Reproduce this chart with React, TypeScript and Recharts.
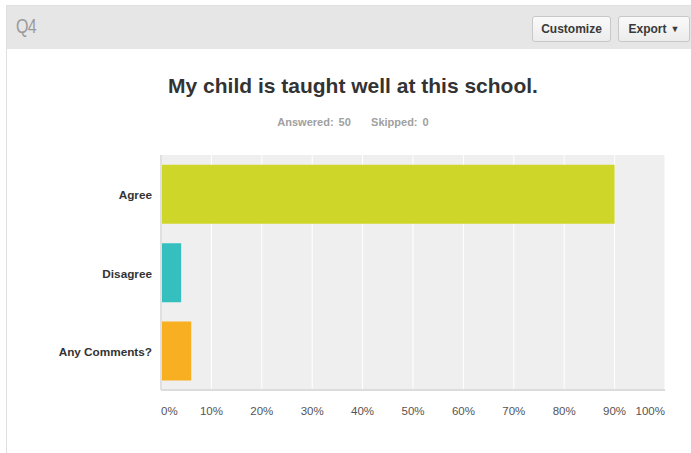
import React from "react";
import { BarChart, Bar, XAxis, YAxis, CartesianGrid, Cell } from "recharts";

const categories = ["Agree", "Disagree", "Any Comments?"];
const percents = [90, 4, 6];
const colors = ["#cfd62a", "#35bfbf", "#f8b022"];
const xTicks = [0, 10, 20, 30, 40, 50, 60, 70, 80, 90, 100];

const data = categories.map((name, i) => ({ name, value: percents[i] }));

const XTick = (props: any) => {
  const { x, y, payload, index } = props;
  const last = xTicks.length - 1;
  const anchor = index === 0 ? "start" : index === last ? "end" : "middle";
  return (
    <text
      x={x}
      y={y + 17}
      textAnchor={anchor}
      fontSize={11.5}
      fill="#555"
      fontFamily="Arial, 'Liberation Sans', sans-serif"
    >
      {`${payload.value}%`}
    </text>
  );
};

const YTick = (props: any) => {
  const { x, y, payload } = props;
  return (
    <text
      x={x - 1}
      y={y + 5}
      textAnchor="end"
      fontSize={11.75}
      fontWeight="bold"
      fill="#333"
      fontFamily="Arial, 'Liberation Sans', sans-serif"
    >
      {payload.value}
    </text>
  );
};

const btn: React.CSSProperties = {
  position: "absolute",
  top: 16,
  height: 26,
  border: "1px solid #c8c8c8",
  borderRadius: 3,
  background: "linear-gradient(#fafafa, #ececec)",
  fontFamily: "Arial, 'Liberation Sans', sans-serif",
  fontSize: 12,
  fontWeight: "bold",
  color: "#3a3a3a",
  display: "flex",
  alignItems: "center",
  justifyContent: "center",
  boxSizing: "border-box",
};

export default function App() {
  return (
    <div
      style={{
        position: "absolute",
        left: 0,
        top: 0,
        width: 691,
        height: 453,
        background: "#fff",
        overflow: "hidden",
      }}
    >
      <div
        style={{
          position: "absolute",
          left: 6,
          top: 5,
          width: 700,
          height: 460,
          borderLeft: "1px solid #e0e0e0",
          borderTop: "1px solid #e0e0e0",
        }}
      />
      <div
        style={{
          position: "absolute",
          left: 7,
          top: 6,
          width: 690,
          height: 43,
          background: "#e6e6e6",
        }}
      />
      <div
        style={{
          position: "absolute",
          left: 16,
          top: 15,
          fontFamily: "Arial, 'Liberation Sans', sans-serif",
          fontSize: 20,
          color: "#9a9a9a",
          letterSpacing: -1,
          transform: "scaleX(0.8)",
          transformOrigin: "left",
        }}
      >
        Q4
      </div>
      <div style={{ ...btn, left: 532, width: 79 }}>Customize</div>
      <div style={{ ...btn, left: 618, width: 72 }}>
        Export <span style={{ fontSize: 9, marginLeft: 4 }}>▼</span>
      </div>
      <div
        style={{
          position: "absolute",
          left: 0,
          width: 706,
          top: 74,
          textAlign: "center",
          fontFamily: "Arial, 'Liberation Sans', sans-serif",
          fontSize: 21,
          fontWeight: "bold",
          color: "#333",
        }}
      >
        My child is taught well at this school.
      </div>
      <div
        style={{
          position: "absolute",
          left: 0,
          width: 706,
          top: 116,
          textAlign: "center",
          fontFamily: "Arial, 'Liberation Sans', sans-serif",
          fontSize: 11,
          fontWeight: "bold",
          color: "#a0a0a0",
          wordSpacing: 2,
        }}
      >
        Answered: 50&nbsp;&nbsp;&nbsp;&nbsp;Skipped: 0
      </div>
      <div style={{ position: "absolute", left: 0, top: 0 }}>
        <BarChart
          width={691}
          height={453}
          data={data}
          layout="vertical"
          margin={{ top: 155, right: 26, bottom: 33, left: 0 }}
          barCategoryGap="12.5%"
        >
          <CartesianGrid
            horizontal={false}
            vertical={true}
            stroke="#ffffff"
            fill="#efefef"
            fillOpacity={1}
          />
          <XAxis
            type="number"
            domain={[0, 100]}
            ticks={xTicks}
            height={30}
            tickLine={false}
            axisLine={{ stroke: "#dcdcdc", strokeWidth: 2 }}
            tick={<XTick />}
            interval={0}
          />
          <YAxis
            type="category"
            dataKey="name"
            width={161}
            tickLine={false}
            axisLine={{ stroke: "#e0e0e0", strokeWidth: 2 }}
            tick={<YTick />}
          />
          <Bar dataKey="value" isAnimationActive={false}>
            {data.map((d, i) => (
              <Cell key={d.name} fill={colors[i]} />
            ))}
          </Bar>
        </BarChart>
      </div>
    </div>
  );
}
